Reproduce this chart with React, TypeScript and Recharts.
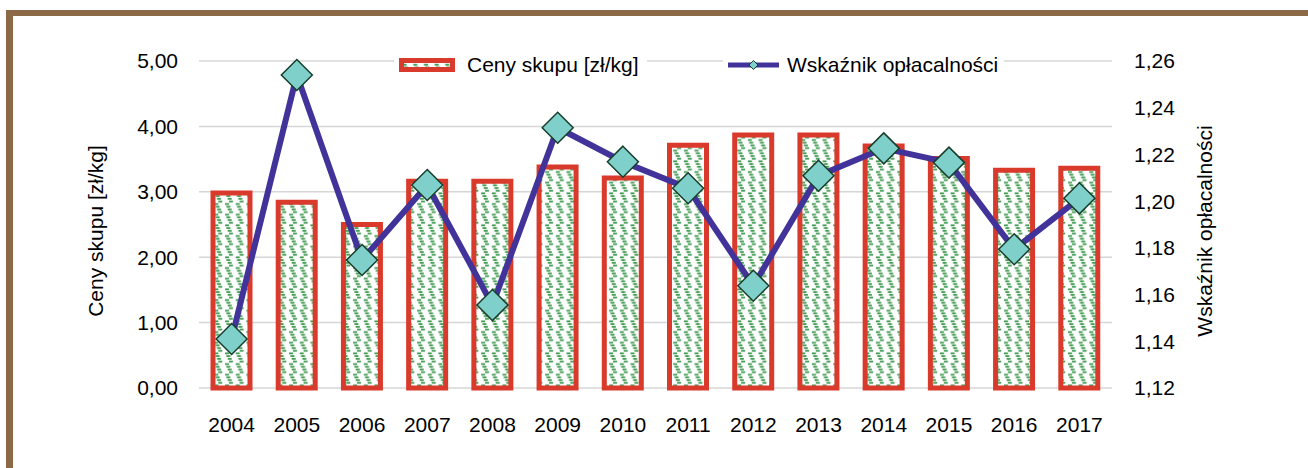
import { ComposedChart, Bar, Line, XAxis, YAxis, CartesianGrid, Legend, Label } from "recharts";

const years = ["2004", "2005", "2006", "2007", "2008", "2009", "2010", "2011", "2012", "2013", "2014", "2015", "2016", "2017"];
const prices = [2.98, 2.84, 2.5, 3.16, 3.16, 3.38, 3.21, 3.71, 3.87, 3.87, 3.7, 3.51, 3.33, 3.36];
const ratios = [1.141, 1.254, 1.1748, 1.2069, 1.1555, 1.2314, 1.2169, 1.2055, 1.1638, 1.2109, 1.2226, 1.2165, 1.1794, 1.2012];
const leftTicks = [0, 1, 2, 3, 4, 5];
const rightTicks = [1.12, 1.14, 1.16, 1.18, 1.2, 1.22, 1.24, 1.26];

const priceName = "Ceny skupu [zł/kg]";
const ratioName = "Wskaźnik opłacalności";

const data = years.map((y, i) => ({ year: y, price: prices[i], ratio: ratios[i] }));

const FONT = "'Liberation Sans', Arial, sans-serif";
const RED = "#d93a2b";
const GREEN = "#3f9a50";
const PURPLE = "#41339a";
const TEAL = "#7fcfca";
const DARK = "#173f2b";

const fmt = (v: number) => v.toFixed(2).replace(".", ",");

function Diamond(props: any) {
  const { cx, cy, index } = props;
  if (cx == null || cy == null) return null;
  const r = 15.5;
  return (
    <path
      key={"d" + index}
      d={`M${cx},${cy - r} L${cx + r},${cy} L${cx},${cy + r} L${cx - r},${cy} Z`}
      fill={TEAL}
      stroke={DARK}
      strokeWidth={1.5}
    />
  );
}

function LegendBox() {
  const item: any = {
    position: "absolute",
    top: 53,
    height: 24,
    background: "#fff",
    display: "flex",
    alignItems: "center",
    fontSize: 21,
    fontFamily: FONT,
    color: "#000",
    whiteSpace: "nowrap",
  };
  return (
    <div style={{ position: "relative", width: 1308, height: 0 }}>
      <div style={{ ...item, left: 394, paddingLeft: 5, paddingRight: 8 }}>
        <svg width={56} height={14} style={{ marginRight: 12 }}>
          <rect x={2.5} y={2.5} width={51} height={9} fill="url(#dashDn)" stroke={RED} strokeWidth={5} />
        </svg>
        <span>{priceName}</span>
      </div>
      <div style={{ ...item, left: 723, paddingLeft: 5, paddingRight: 6 }}>
        <svg width={51} height={14} style={{ marginRight: 8 }}>
          <line x1={0} y1={7} x2={51} y2={7} stroke={PURPLE} strokeWidth={5} />
          <path d="M25.5,2.5 L30,7 L25.5,11.5 L21,7 Z" fill={TEAL} stroke={DARK} strokeWidth={1} />
        </svg>
        <span>{ratioName}</span>
      </div>
    </div>
  );
}

export default function App() {
  const tick = { fontSize: 21, fill: "#000", fontFamily: FONT };
  return (
    <div style={{ position: "absolute", left: 0, top: 0, width: 1308, height: 468, overflow: "hidden", background: "#fff", fontFamily: FONT }}>
      <div
        style={{
          position: "absolute",
          left: 6,
          top: 10,
          width: 1500,
          height: 700,
          borderTop: "6px solid #8c6a48",
          borderLeft: "7px solid #8c6a48",
        }}
      />
      <div style={{ position: "absolute", left: 0, top: 0 }}>
        <ComposedChart width={1308} height={468} data={data} margin={{ top: 61, right: 96, bottom: 20, left: 99 }}>
          <defs>
            <pattern id="dashDn" patternUnits="userSpaceOnUse" width={10.67} height={10.67}>
              <rect x={0} y={0} width={10.67} height={10.67} fill="#fff" />
              <rect x={1} y={0.4} width={4} height={1.8} fill={GREEN} />
              <rect x={2.3} y={3.1} width={4} height={1.8} fill={GREEN} />
              <rect x={3.6} y={5.8} width={4} height={1.8} fill={GREEN} />
              <rect x={4.9} y={8.5} width={4} height={1.8} fill={GREEN} />
            </pattern>
          </defs>
          <CartesianGrid yAxisId="left" vertical={false} stroke="#d6d6d6" strokeWidth={1.5} />
          <XAxis dataKey="year" interval={0} axisLine={false} tickLine={false} tickSize={0} tickMargin={29} height={60} tick={tick} />
          <YAxis
            yAxisId="left"
            domain={[0, 5]}
            ticks={leftTicks}
            tickFormatter={fmt}
            axisLine={false}
            tickLine={false}
            tickSize={0}
            tickMargin={21}
            width={100}
            tick={tick}
          >
            <Label
              content={() => (
                <text x={95} y={231} transform="rotate(-90 95 231)" textAnchor="middle" dominantBaseline="central" fontSize={21} fontFamily={FONT} fill="#000">
                  {priceName}
                </text>
              )}
            />
          </YAxis>
          <YAxis
            yAxisId="right"
            orientation="right"
            domain={[1.12, 1.26]}
            ticks={rightTicks}
            tickFormatter={fmt}
            axisLine={false}
            tickLine={false}
            tickSize={0}
            tickMargin={22}
            width={100}
            tick={tick}
          >
            <Label
              content={() => (
                <text x={1204} y={231} transform="rotate(-90 1204 231)" textAnchor="middle" dominantBaseline="central" fontSize={21} fontFamily={FONT} fill="#000">
                  {ratioName}
                </text>
              )}
            />
          </YAxis>
          <Legend layout="horizontal" verticalAlign="middle" align="center" wrapperStyle={{ top: 0, left: 0, width: 1308, height: 0 }} content={() => <LegendBox />} />
          <Bar yAxisId="left" dataKey="price" name={priceName} fill="url(#dashDn)" stroke={RED} strokeWidth={5} barSize={37} isAnimationActive={false} />
          <Line
            yAxisId="right"
            type="linear"
            dataKey="ratio"
            name={ratioName}
            stroke={PURPLE}
            strokeWidth={6}
            dot={Diamond}
            activeDot={false}
            isAnimationActive={false}
          />
        </ComposedChart>
      </div>
    </div>
  );
}
